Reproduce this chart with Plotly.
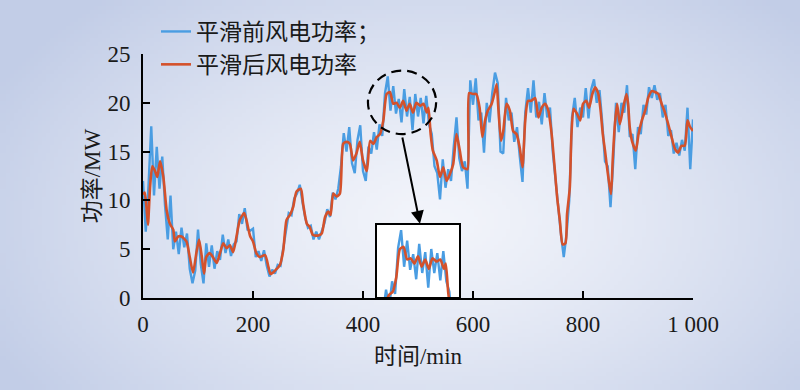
import base64
import struct
import zlib

import plotly.graph_objects as go

# ---------------- data ----------------
# raw (before smoothing) wind power, sampled every 5 min
raw_time = list(range(0, 1001, 5))
raw_power = [
    12.0, 6.8, 11.5, 17.6, 10.5, 15.5, 11.2, 14.5, 9.5, 6.0,
    10.5, 5.0, 6.8, 4.5, 7.2, 5.2, 6.6, 3.0, 1.5, 2.8,
    7.0, 3.5, 1.5, 5.6, 3.2, 5.4, 3.0, 4.8, 3.9, 6.5,
    4.6, 6.0, 4.3, 5.5, 5.8, 8.6, 7.6, 9.2, 7.0, 6.9,
    7.1, 4.2, 4.8, 3.8, 4.9, 3.3, 2.2, 2.9, 2.5, 3.4,
    3.3, 5.1, 7.3, 8.7, 8.5, 10.2, 10.7, 11.6, 9.8, 8.2,
    7.2, 7.4, 6.0, 6.8, 6.0, 6.9, 7.7, 9.1, 8.3, 10.8,
    10.1, 11.2, 13.5, 16.9, 15.0, 17.5, 13.8, 12.8, 16.2, 17.7,
    13.0, 12.0, 15.5, 14.8, 17.0, 15.2, 17.8, 16.6, 21.0, 22.7,
    19.2, 21.7, 18.9, 20.4, 18.0, 21.4, 18.6, 20.6, 17.2, 20.9,
    18.6, 20.5, 17.9, 20.7, 17.8, 16.8, 13.5, 12.8, 10.1, 14.2,
    11.3, 13.2, 12.0, 15.5, 18.5, 14.3, 13.0, 14.0, 11.2, 22.3,
    19.8, 22.5, 18.2, 19.0, 14.9, 20.0, 18.0, 21.0, 23.1, 22.0,
    15.0, 14.8, 20.5, 18.2, 19.0, 16.0, 17.5, 14.5, 11.9, 19.0,
    21.5, 19.0, 22.3, 18.5, 20.1, 17.8, 21.0, 18.5, 19.5, 15.0,
    12.0, 9.0, 6.5, 4.2, 6.5, 10.0, 18.5, 20.5, 17.5, 19.5,
    18.5, 21.5, 18.4, 21.4, 22.4, 20.0, 21.3, 18.0, 14.0, 13.5,
    9.3, 14.0, 20.0, 17.0, 20.0, 19.0, 21.8, 16.5, 16.8, 13.2,
    17.5, 16.8, 19.8, 18.8, 21.6, 20.5, 21.8, 20.3, 21.0, 18.5,
    19.8, 16.6, 17.2, 14.8, 15.9, 14.6, 16.2, 15.1, 19.5, 13.2,
    18.3,
]

# smoothed wind power
smooth_time = [
    0, 3, 6, 9, 13, 17, 22, 26, 31, 37, 43, 49, 55, 58, 64, 70, 79, 85, 91, 97,
    102, 107, 111, 115, 121, 127, 134, 140, 146, 152, 158, 164, 170, 176, 184, 188, 195, 200, 206, 212,
    222, 228, 232, 240, 249, 255, 261, 267, 273, 279, 287, 291, 298, 303, 309, 319, 325, 331, 337, 341,
    346, 352, 358, 364, 370, 376, 382, 388, 394, 400, 407, 413, 419, 425, 431, 437, 443, 449, 455, 461,
    467, 473, 479, 485, 491, 497, 504, 510, 516, 519, 523, 527, 534, 540, 546, 552, 558, 564, 570, 576,
    582, 590, 593, 600, 606, 612, 617, 622, 627, 634, 640, 643, 646, 651, 655, 661, 667, 673, 679, 685,
    690, 695, 700, 706, 713, 719, 725, 731, 737, 743, 749, 753, 758, 763, 768, 771, 776, 779, 783, 789,
    795, 800, 806, 811, 817, 822, 828, 832, 836, 840, 843, 847, 851, 854, 858, 862, 867, 873, 879, 882,
    885, 889, 896, 901, 907, 913, 919, 925, 931, 937, 943, 949, 955, 961, 967, 973, 979, 985, 990, 994,
    1000,
]
smooth_power = [
    10.6, 10.8, 9.5, 7.5, 11.5, 13.5, 13.0, 12.4, 14.0, 12.4, 9.0, 7.6, 7.0, 5.8, 6.3, 6.3, 5.8, 4.2, 2.6, 4.6,
    6.0, 4.2, 2.5, 4.2, 4.6, 4.2, 3.6, 4.6, 5.6, 5.1, 5.4, 4.7, 6.3, 8.0, 8.7, 8.0, 6.3, 5.8, 4.6, 4.2,
    4.4, 3.2, 2.45, 2.8, 3.4, 4.9, 8.0, 8.5, 9.3, 10.9, 11.2, 9.7, 7.6, 7.3, 6.45, 6.4, 6.6, 8.3, 8.85, 8.5,
    10.7, 10.4, 10.7, 15.8, 16.0, 15.8, 14.1, 14.8, 16.0, 14.1, 13.0, 16.1, 15.8, 16.5, 16.8, 18.2, 20.9, 21.1, 19.9, 20.0,
    19.5, 20.2, 19.2, 19.9, 19.0, 20.0, 19.7, 19.9, 19.0, 19.5, 16.8, 15.1, 14.1, 12.4, 13.4, 12.0, 12.7, 13.7, 16.8, 15.1,
    13.4, 13.2, 21.0, 20.9, 20.9, 19.5, 16.5, 18.2, 19.2, 19.9, 21.2, 21.9, 19.5, 16.1, 17.1, 19.9, 19.2, 17.1, 16.8, 15.4,
    13.4, 18.2, 20.2, 20.2, 20.5, 18.5, 19.5, 19.9, 19.2, 16.8, 13.0, 10.3, 7.9, 5.5, 5.6, 8.6, 11.3, 16.8, 19.4, 18.9,
    18.2, 19.9, 20.2, 19.5, 20.9, 21.6, 20.9, 19.2, 16.8, 15.1, 13.7, 12.0, 10.65, 14.1, 17.8, 19.9, 17.8, 19.5, 20.9, 19.9,
    17.5, 16.1, 15.1, 16.8, 18.2, 19.2, 20.6, 21.2, 21.1, 20.9, 19.9, 19.0, 17.8, 16.5, 15.3, 14.9, 15.6, 15.6, 18.2, 17.6,
    17.1,
]

series_names = ["平滑前风电功率；", "平滑后风电功率"]
x_ticks = [0, 200, 400, 600, 800, 1000]
x_tick_labels = ["0", "200", "400", "600", "800", "1 000"]
y_ticks = [0, 5, 10, 15, 20, 25]
x_title = "时间/min"
y_title = "功率/MW"

# zoomed window shown in the inset, and the dashed ring marking it
inset_x_range = [405, 541]
inset_y_range = [16.3, 23.2]
ring_x = [409, 533]
ring_y = [16.8, 23.3]

# ---------------- style ----------------
BLUE = "#4a9de2"
RED = "#d4512b"
TXT = "#1a1a1a"
FONT = "Liberation Serif, 'Noto Sans CJK SC', serif"
W, H = 800, 390
ML, MR, MT, MB = 143, 107, 54, 92
PW, PH = W - ML - MR, H - MT - MB


def gradient_png(w, h):
    cx, cy = 0.54 * w, 0.56 * h
    rx, ry = 0.62 * w, 0.78 * h
    c0 = (243, 245, 251)
    c1 = (194, 205, 231)
    rows = []
    for j in range(h):
        row = bytearray()
        for i in range(w):
            d = (((i - cx) / rx) ** 2 + ((j - cy) / ry) ** 2) ** 0.5
            f = min(d, 1.0) ** 1.25
            row += bytes(int(c0[k] + (c1[k] - c0[k]) * f) for k in range(3))
        rows.append(b"\x00" + bytes(row))
    raw = b"".join(rows)

    def chunk(t, data):
        return (struct.pack(">I", len(data)) + t + data
                + struct.pack(">I", zlib.crc32(t + data) & 0xFFFFFFFF))

    png = (b"\x89PNG\r\n\x1a\n"
           + chunk(b"IHDR", struct.pack(">IIBBBBB", w, h, 8, 2, 0, 0, 0))
           + chunk(b"IDAT", zlib.compress(raw, 9))
           + chunk(b"IEND", b""))
    return "data:image/png;base64," + base64.b64encode(png).decode()


fig = go.Figure()

# main traces
fig.add_trace(go.Scatter(x=raw_time, y=raw_power, mode="lines", name=series_names[0],
                         line=dict(color=BLUE, width=2.4)))
fig.add_trace(go.Scatter(x=smooth_time, y=smooth_power, mode="lines", name=series_names[1],
                         line=dict(color=RED, width=2.6, shape="spline", smoothing=0.6)))
# inset traces
fig.add_trace(go.Scatter(x=raw_time, y=raw_power, mode="lines", showlegend=False,
                         line=dict(color=BLUE, width=2.4), xaxis="x2", yaxis="y2"))
fig.add_trace(go.Scatter(x=smooth_time, y=smooth_power, mode="lines", showlegend=False,
                         line=dict(color=RED, width=2.6, shape="spline", smoothing=0.6),
                         xaxis="x2", yaxis="y2"))

axis_common = dict(showgrid=False, zeroline=False, showline=True, linecolor="black",
                   linewidth=2, ticks="inside", ticklen=7, tickwidth=2, tickcolor="black",
                   tickfont=dict(family=FONT, size=23, color=TXT))

fig.update_layout(
    width=W, height=H,
    margin=dict(l=ML, r=MR, t=MT, b=MB, autoexpand=False),
    paper_bgcolor="#c8d2ea",
    plot_bgcolor="rgba(0,0,0,0)",
    font=dict(family=FONT, size=23, color=TXT),
    xaxis=dict(range=[0, 1000], tickvals=x_ticks, ticktext=x_tick_labels,
               ticklabelstandoff=4,
               title=dict(text=x_title, font=dict(family=FONT, size=23, color=TXT), standoff=12),
               **axis_common),
    yaxis=dict(range=[0, 25], tickvals=y_ticks, ticklabelstandoff=6,
               title=dict(text=y_title, font=dict(family=FONT, size=23, color=TXT), standoff=0),
               **axis_common),
    xaxis2=dict(domain=[(377 - ML) / PW, (459 - ML) / PW], range=inset_x_range, anchor="y2",
                showgrid=False, zeroline=False, showticklabels=False, ticks="",
                showline=True, mirror=True, linecolor="black", linewidth=2),
    yaxis2=dict(domain=[(298 - 297) / PH, (298 - 225) / PH], range=inset_y_range, anchor="x2",
                showgrid=False, zeroline=False, showticklabels=False, ticks="",
                showline=True, mirror=True, linecolor="black", linewidth=2),
    legend=dict(x=(156 - ML) / PW, y=(298 - 10) / PH, xanchor="left", yanchor="top",
                bgcolor="rgba(0,0,0,0)", borderwidth=0, itemwidth=30,
                font=dict(family=FONT, size=23, color=TXT)),
    showlegend=True,
)

# background gradient covering the whole figure
fig.add_layout_image(dict(source=gradient_png(200, 98), xref="paper", yref="paper",
                          x=-ML / PW, y=1 + MT / PH, sizex=W / PW, sizey=H / PH,
                          xanchor="left", yanchor="top", sizing="stretch", layer="below"))

# white inset background
fig.add_shape(type="rect", xref="x2 domain", yref="y2 domain", x0=0, x1=1, y0=0, y1=1,
              fillcolor="white", line=dict(width=0), layer="below")

# dashed ring around the zoomed region
fig.add_shape(type="circle", xref="x", yref="y", x0=ring_x[0], x1=ring_x[1],
              y0=ring_y[0], y1=ring_y[1], line=dict(color="black", width=2.2, dash="10px,6px"))

# arrow from ring to inset
fig.add_annotation(x=503.6, y=7.6, ax=471, ay=16.6, xref="x", yref="y", axref="x", ayref="y",
                   text="", showarrow=True, arrowhead=2, arrowsize=1.3, arrowwidth=2,
                   arrowcolor="black", standoff=0, startstandoff=0)

# remove the default page margin so the figure sits at the window origin
fig.write_html("out.html", config={"displayModeBar": False},
               post_script="document.body.style.margin='0';document.body.style.overflow='hidden';")
